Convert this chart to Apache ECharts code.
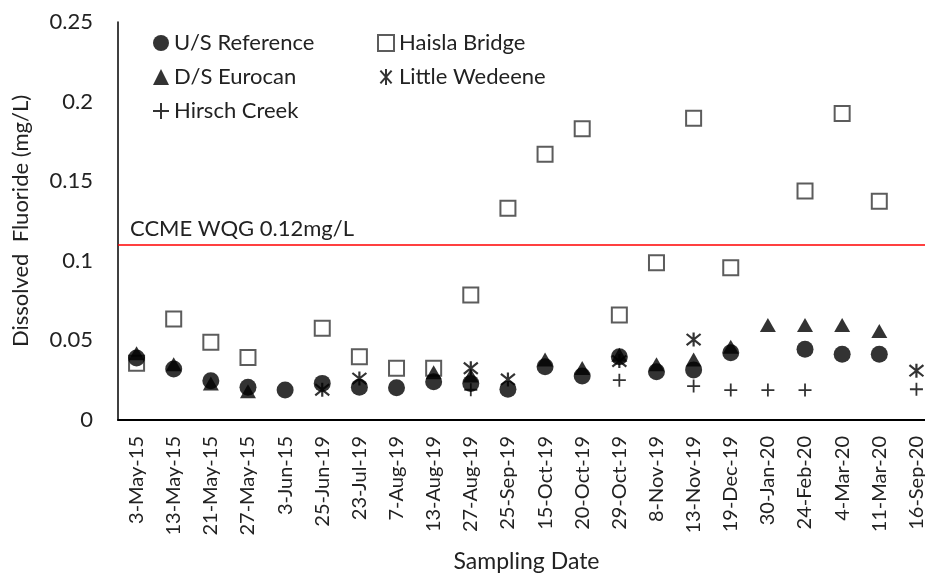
<!DOCTYPE html>
<html>
<head>
<meta charset="utf-8">
<script src="https://cdn.jsdelivr.net/npm/echarts@6/dist/echarts.min.js"></script>
<style>html,body{margin:0;padding:0;background:#fff}#c{width:925px;height:574px}</style>
</head>
<body>
<div id="c"></div>
<script>
const categories = ['3-May-15','13-May-15','21-May-15','27-May-15','3-Jun-15','25-Jun-19','23-Jul-19','7-Aug-19','13-Aug-19','27-Aug-19','25-Sep-19','15-Oct-19','20-Oct-19','29-Oct-19','8-Nov-19','13-Nov-19','19-Dec-19','30-Jan-20','24-Feb-20','4-Mar-20','11-Mar-20','16-Sep-20'];
const usReference = [0.039,0.032,0.0247,0.0205,0.0188,0.023,0.0205,0.0203,0.024,0.023,0.0193,0.0335,0.0276,0.0398,0.0303,0.0314,0.0423,null,0.0444,0.0413,0.0413,null];
const dsEurocan = [0.042,0.035,0.023,0.018,null,null,null,null,0.030,0.028,null,0.038,0.0326,0.041,0.035,0.038,0.046,0.0597,0.0597,0.0597,0.0559,null];
const hirschCreek = [null,null,null,null,null,null,null,null,null,0.019,null,null,null,0.025,null,0.0213,0.0188,0.0188,0.0188,null,null,0.0193];
const haislaBridge = [0.0356,0.0634,0.0488,0.0392,null,0.0576,0.0398,0.0325,0.0325,0.0785,0.133,0.167,0.183,0.066,0.0988,0.1895,0.0957,null,0.1438,0.1926,0.1374,null];
const littleWedeene = [null,null,null,null,null,0.019,0.026,null,null,0.0325,0.0255,null,null,0.037,null,0.0505,null,null,null,null,null,0.031];
const guideline = 0.111;
const guidelineLabel = 'CCME WQG 0.12mg/L';

const FONT = 'Lato';
const starPath = 'path://M0,-10L0,10M-7,-8L7,8M-7,8L7,-8';
const plusPath = 'path://M0,-10L0,10M-10,0L10,0';

const chart = echarts.init(document.getElementById('c'));
chart.setOption({
  animation: false,
  textStyle: {fontFamily: FONT},
  grid: {left: 118, top: 22, bottom: 154, right: -10, containLabel: false, outerBoundsMode: 'none'},
  legend: [
    {left: 147, top: 27, orient: 'vertical', itemGap: 12, itemWidth: 16, itemHeight: 16,
     textStyle: {fontSize: 22, color: '#222', fontFamily: FONT},
     data: ['U/S Reference','D/S Eurocan','Hirsch Creek']},
    {left: 372, top: 27, orient: 'vertical', itemGap: 12, itemWidth: 16, itemHeight: 16,
     textStyle: {fontSize: 22, color: '#222', fontFamily: FONT},
     data: ['Haisla Bridge','Little Wedeene']}
  ],
  xAxis: {
    type: 'category', data: categories, boundaryGap: true,
    axisLine: {lineStyle: {color: '#000', width: 2}},
    axisTick: {show: false},
    axisLabel: {rotate: 90, fontSize: 20, color: '#222', margin: 16, interval: 0, fontFamily: FONT},
    name: 'Sampling Date', nameLocation: 'middle', nameGap: 130,
    nameTextStyle: {fontSize: 23, color: '#222', fontFamily: FONT}
  },
  yAxis: {
    type: 'value', min: 0, max: 0.25, interval: 0.05,
    axisLine: {show: true, lineStyle: {color: '#000', width: 1.5}},
    axisTick: {show: false},
    splitLine: {show: false},
    axisLabel: {fontSize: 22, color: '#222', margin: 25, fontFamily: FONT},
    name: 'Dissolved  Fluoride (mg/L)', nameLocation: 'middle', nameGap: 86, nameRotate: 90,
    nameTextStyle: {fontSize: 22, color: '#222', fontFamily: FONT}
  },
  series: [
    {name: 'Haisla Bridge', type: 'scatter', data: haislaBridge, symbol: 'rect', symbolSize: 15, z: 2,
     itemStyle: {color: '#fff', borderColor: '#333', borderWidth: 2},
     markLine: {silent: true, symbol: 'none', animation: false,
       lineStyle: {color: '#ff0000', width: 1.5, type: 'solid'},
       label: {show: true, position: 'insideStartTop', formatter: guidelineLabel, fontSize: 22, color: '#222', fontFamily: FONT, distance: [12, 5]},
       data: [{yAxis: guideline}]}},
    {name: 'D/S Eurocan', type: 'scatter', data: dsEurocan, symbol: 'triangle', symbolSize: [16, 14], z: 3,
     itemStyle: {color: '#000'}},
    {name: 'Little Wedeene', type: 'scatter', data: littleWedeene, symbol: starPath, symbolSize: 14, z: 3,
     itemStyle: {color: 'rgba(0,0,0,0)', borderColor: '#000', borderWidth: 2.2}},
    {name: 'Hirsch Creek', type: 'scatter', data: hirschCreek, symbol: plusPath, symbolSize: 13, z: 3,
     itemStyle: {color: 'rgba(0,0,0,0)', borderColor: '#000', borderWidth: 1.8}},
    {name: 'U/S Reference', type: 'scatter', data: usReference, symbol: 'circle', symbolSize: 17, z: 4,
     itemStyle: {color: '#000'}}
  ]
});
</script>
</body>
</html>
